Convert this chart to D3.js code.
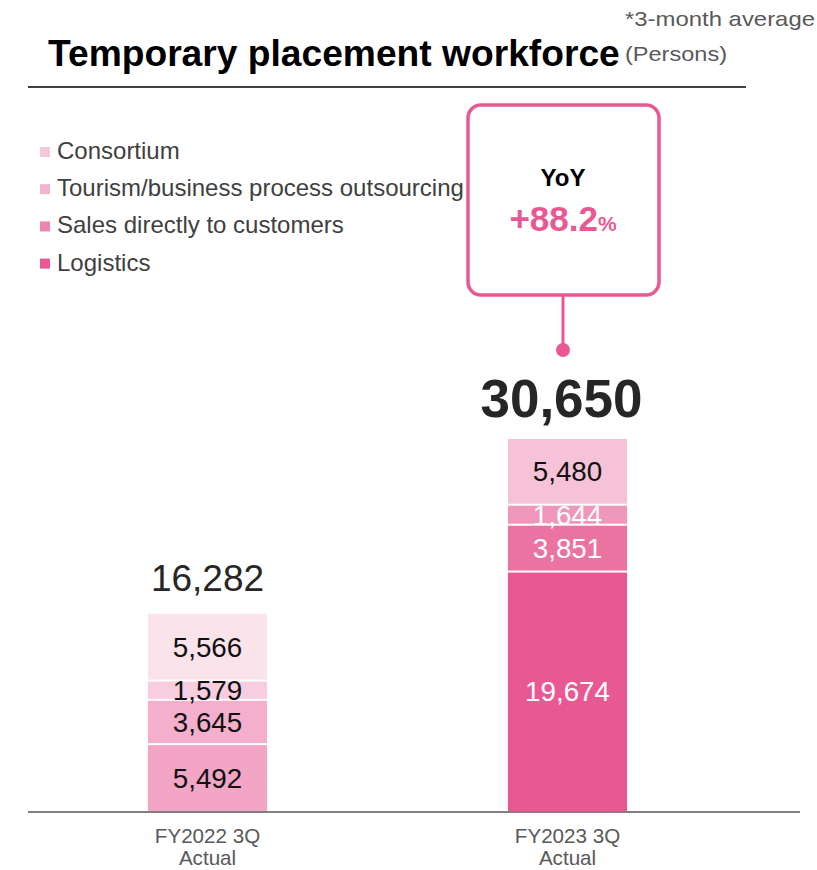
<!DOCTYPE html>
<html>
<head>
<meta charset="utf-8">
<script src="https://cdn.jsdelivr.net/npm/d3@7"></script>
<style>
  body { margin: 0; background: #fff; }
</style>
</head>
<body>
<div id="chart"></div>
<script>
// data
var periods = ["FY2022 3Q", "FY2023 3Q"];
var periodSub = ["Actual", "Actual"];
var segments = ["Logistics", "Sales directly to customers", "Tourism/business process outsourcing", "Consortium"];
var logistics = [5492, 19674];
var sales = [3645, 3851];
var tourism = [1579, 1644];
var consortium = [5566, 5480];
var totals = [16282, 30650];
var yoyText = "+88.2";

// colours per period (bottom -> top)
var barColors = [
    ["#f2a5c5", "#f4afcc", "#f8cde0", "#fbe3ec"],
    ["#e85994", "#ea73a1", "#ef96bb", "#f6c2d8"]
];
var labelColors = [
    ["#111", "#111", "#111", "#111"],
    ["#fff", "#fff", "#fff", "#111"]
];
var legendColors = ["#e85994", "#ed86af", "#f4b3ce", "#f7c6da"];

var width = 817, height = 870;
var baseY = 811;

var svg = d3.select("#chart")
    .append("svg")
    .attr("width", width)
    .attr("height", height)
    .attr("font-family", "'Liberation Sans', Arimo, Arial, Helvetica, sans-serif");

// title block
svg.append("text")
    .attr("x", 48).attr("y", 66)
    .attr("font-size", 37.2).attr("font-weight", "bold")
    .attr("fill", "#000")
    .text("Temporary placement workforce");
svg.append("text")
    .attr("x", 625).attr("y", 61)
    .attr("font-size", 21).attr("fill", "#595959")
    .attr("textLength", 102).attr("lengthAdjust", "spacingAndGlyphs")
    .text("(Persons)");
svg.append("text")
    .attr("x", 625).attr("y", 26)
    .attr("font-size", 21).attr("fill", "#595959")
    .attr("textLength", 190).attr("lengthAdjust", "spacingAndGlyphs")
    .text("*3-month average");
svg.append("line")
    .attr("x1", 28).attr("x2", 746)
    .attr("y1", 87).attr("y2", 87)
    .attr("stroke", "#000").attr("stroke-width", 1.5);

// scales
var x = d3.scaleBand()
    .domain(periods)
    .range([27.5, 747.5])
    .paddingInner(0.669)
    .paddingOuter(0.3345);

var y = d3.scaleLinear()
    .domain([0, totals[1]])
    .range([baseY, 438]);

var table = periods.map(function (p, i) {
    return { period: p, Logistics: logistics[i], "Sales directly to customers": sales[i],
        "Tourism/business process outsourcing": tourism[i], Consortium: consortium[i] };
});
var series = d3.stack().keys(segments)(table);

// bars
series.forEach(function (s, si) {
    s.forEach(function (d, pi) {
        var y0 = y(d[0]), y1 = y(d[1]);
        svg.append("rect")
            .attr("x", x(periods[pi]))
            .attr("y", y1 + 1)
            .attr("width", x.bandwidth())
            .attr("height", Math.max(0, y0 - y1 - (si === 0 ? 1 : 2)))
            .attr("fill", barColors[pi][si]);
        svg.append("text")
            .attr("x", x(periods[pi]) + x.bandwidth() / 2)
            .attr("y", (y0 + y1) / 2 + 10)
            .attr("text-anchor", "middle")
            .attr("font-size", 27.8)
            .attr("fill", labelColors[pi][si])
            .text(d3.format(",")(d[1] - d[0]));
    });
});

// totals
svg.append("text")
    .attr("x", x(periods[0]) + x.bandwidth() / 2)
    .attr("y", y(totals[0]) - 22)
    .attr("text-anchor", "middle")
    .attr("font-size", 37).attr("fill", "#262626")
    .text(d3.format(",")(totals[0]));
svg.append("text")
    .attr("x", x(periods[1]) + x.bandwidth() / 2 - 6)
    .attr("y", y(totals[1]) - 21)
    .attr("text-anchor", "middle")
    .attr("font-size", 53).attr("font-weight", "bold").attr("fill", "#262626")
    .text(d3.format(",")(totals[1]));

// baseline axis
svg.append("line")
    .attr("x1", 28).attr("x2", 800)
    .attr("y1", baseY + 1).attr("y2", baseY + 1)
    .attr("stroke", "#808080").attr("stroke-width", 2);

// category labels
periods.forEach(function (p, i) {
    var cx = x(p) + x.bandwidth() / 2;
    svg.append("text")
        .attr("x", cx).attr("y", 843)
        .attr("text-anchor", "middle")
        .attr("font-size", 20.6).attr("fill", "#595959")
        .text(p);
    svg.append("text")
        .attr("x", cx).attr("y", 865)
        .attr("text-anchor", "middle")
        .attr("font-size", 20.6).attr("fill", "#595959")
        .text(periodSub[i]);
});

// legend (top -> bottom is reverse of stack)
var legendOrder = segments.slice().reverse();
var legendCols = legendColors.slice().reverse();
legendOrder.forEach(function (name, i) {
    var by = 159 + i * 37.2;
    svg.append("rect")
        .attr("x", 40).attr("y", by - 12)
        .attr("width", 10).attr("height", 10)
        .attr("fill", legendCols[i]);
    svg.append("text")
        .attr("x", 57).attr("y", by)
        .attr("font-size", 24).attr("fill", "#404040")
        .text(name);
});

// YoY callout
svg.append("rect")
    .attr("x", 468).attr("y", 105)
    .attr("width", 191).attr("height", 190)
    .attr("rx", 13).attr("ry", 13)
    .attr("fill", "#fff")
    .attr("stroke", "#e85994").attr("stroke-width", 3.5);
svg.append("line")
    .attr("x1", 563).attr("x2", 563)
    .attr("y1", 296).attr("y2", 350)
    .attr("stroke", "#e85994").attr("stroke-width", 3);
svg.append("circle")
    .attr("cx", 563).attr("cy", 350).attr("r", 7)
    .attr("fill", "#e85994");
svg.append("text")
    .attr("x", 563).attr("y", 186)
    .attr("text-anchor", "middle")
    .attr("font-size", 24).attr("font-weight", "bold").attr("fill", "#000")
    .text("YoY");
var yoy = svg.append("text")
    .attr("x", 563).attr("y", 231)
    .attr("text-anchor", "middle")
    .attr("font-weight", "bold").attr("fill", "#e85994");
yoy.append("tspan").attr("font-size", 35).text(yoyText);
yoy.append("tspan").attr("font-size", 21).text("%");
</script>
</body>
</html>
